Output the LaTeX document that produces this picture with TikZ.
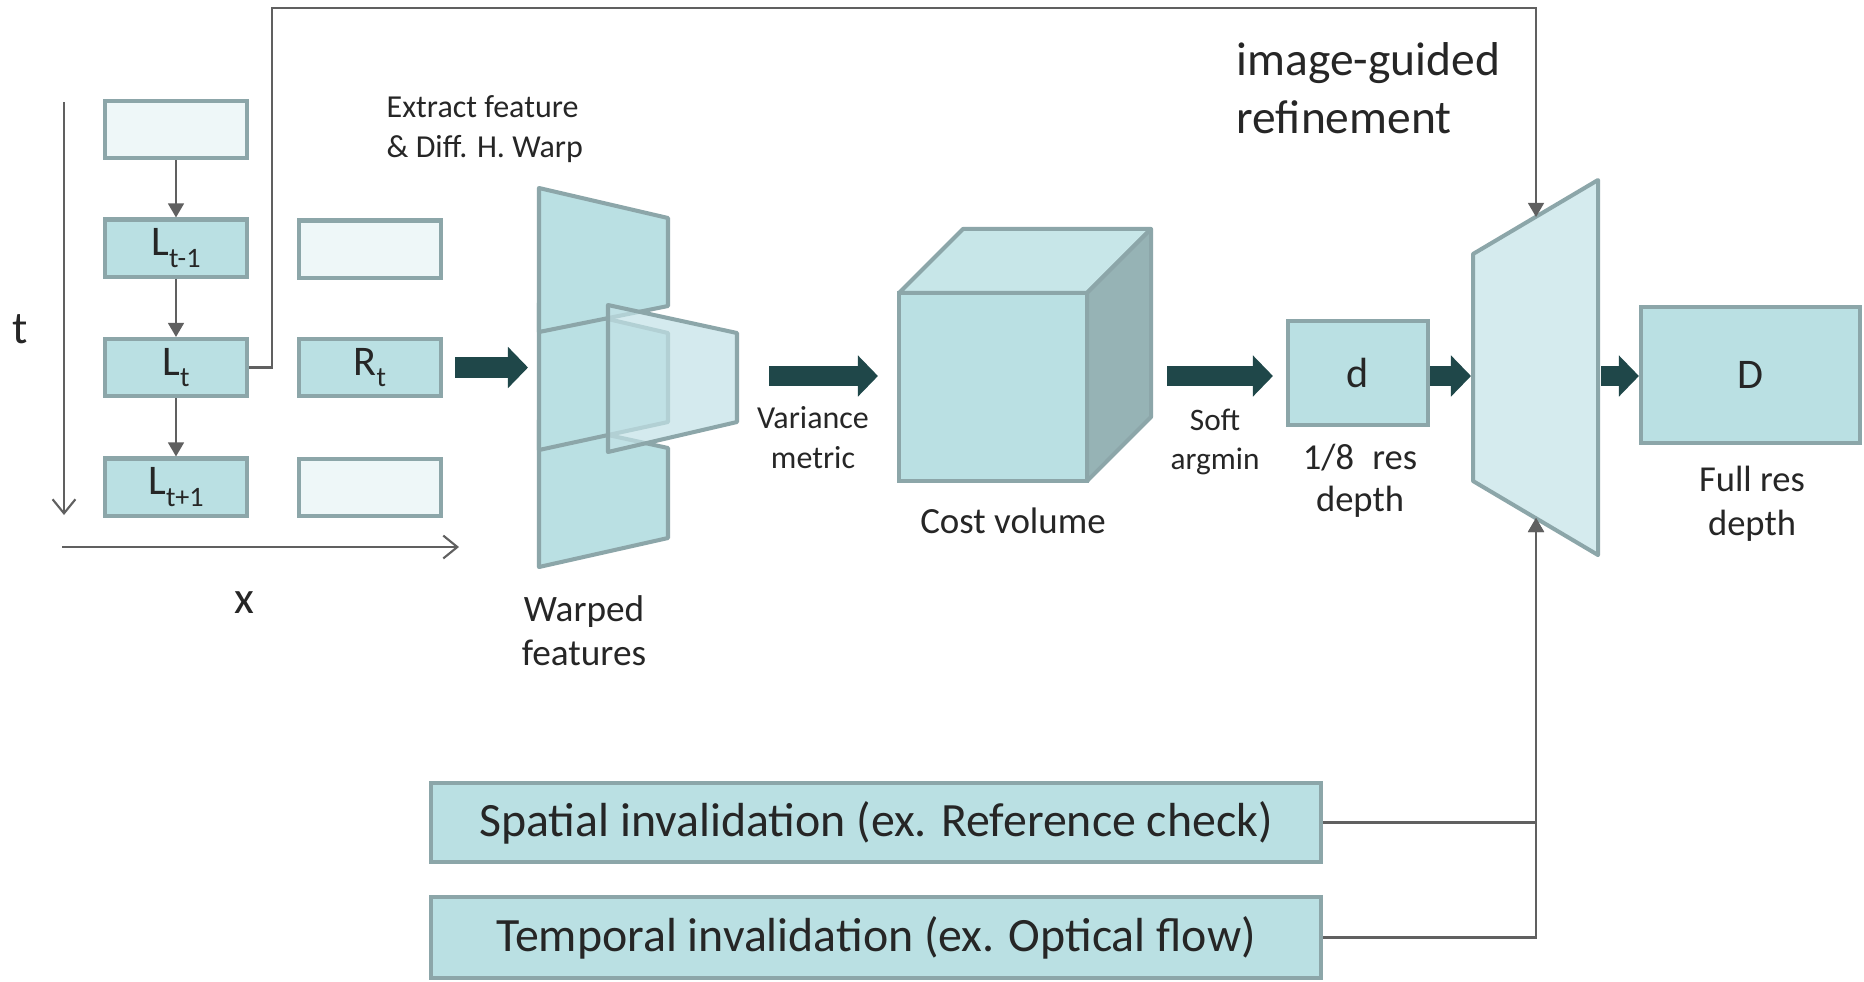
\documentclass[tikz,border=0pt]{standalone}
\usepackage{fontspec}
\setmainfont{Carlito}
\usetikzlibrary{arrows.meta,calc}

\definecolor{boxc}{HTML}{BAE0E3}
\definecolor{palec}{HTML}{EEF7F8}
\definecolor{edgec}{HTML}{8CA6A9}
\definecolor{refc}{HTML}{D5EBEE}
\definecolor{overc}{HTML}{C3E2E7}
\definecolor{cubetop}{HTML}{C7E6E8}
\definecolor{cubeside}{HTML}{96B3B5}
\definecolor{darkc}{HTML}{1F4749}
\definecolor{grayc}{HTML}{606060}
\definecolor{txt}{HTML}{262626}

% lowered subscript for the frame labels
\newcommand{\frameidx}[1]{\raisebox{-0.27em}{\fontsize{8}{9}\selectfont #1}}

\begin{document}
\begin{tikzpicture}[x=0.01cm,y=-0.01cm,
  box/.style={draw=edgec, line width=1.15pt, fill=boxc, inner sep=0pt,
    minimum width=1.42cm, minimum height=0.57cm, text=txt,
    font=\fontsize{12}{14}\selectfont},
  emptybox/.style={box, fill=palec},
  panel/.style={draw=edgec, line width=1.15pt, fill=boxc, line join=round},
  conn/.style={draw=grayc, line width=0.6pt, -{Triangle[width=4.5pt,length=4pt]}},
  axis/.style={draw=grayc, line width=0.6pt, -{Straight Barb[width=6.5pt,length=4pt]}},
  bigarrow/.style={draw=darkc, line width=5.7pt, -{Triangle[width=11.4pt,length=5.7pt]}},
  lbl/.style={text=txt, align=center, inner sep=0pt}]

% canvas
\fill[white] (0,0) rectangle (1864,981);
\useasboundingbox (0,0) rectangle (1864,981);

% ---------- time / space axes ----------
\coordinate (t0) at (64,102);
\coordinate (t1) at (64,515);
\coordinate (x0) at (62,547);
\coordinate (x1) at (459,547);
\draw[axis] (t0) -- (t1);
\draw[axis] (x0) -- (x1);
\node[lbl, font=\fontsize{13}{15}\selectfont] (tlab) at (20,329) {t};
\node[lbl, font=\fontsize{13}{15}\selectfont] (xlab) at (244,603) {x};

% ---------- left / right image columns ----------
\node[emptybox] (L0)   at (176,129.5) {};
\node[box]      (Ltm1) at (176,248)   {L\frameidx{t-1}};
\node[box]      (Lt)   at (176,367.5) {L\frameidx{t}};
\node[box]      (Ltp1) at (176,487)   {L\frameidx{t+1}};
\node[emptybox] (Rtm1) at (370,249)   {};
\node[box]      (Rt)   at (370,367.5) {R\frameidx{t}};
\node[emptybox] (Rtp1) at (370,487.5) {};

\draw[conn] (L0) -- (Ltm1);
\draw[conn] (Ltm1) -- (Lt);
\draw[conn] (Lt) -- (Ltp1);

\node[lbl, anchor=west, align=left, font=\fontsize{9.1}{11.4}\selectfont]
  (extract) at (386,129) {Extract feature\\\& Diff. H. Warp};

% ---------- warped feature planes ----------
\filldraw[panel] (539,420) -- (668,448) -- (668,538) -- (539,567) -- cycle;
\filldraw[panel] (539,303) -- (668,333) -- (668,422) -- (539,450) -- cycle;
\filldraw[panel] (539,188) -- (668,218) -- (668,306) -- (539,332) -- cycle;
\filldraw[panel, fill=overc, fill opacity=0.7] (608,305) -- (737,333) -- (737,422) -- (608,452) -- cycle;
\coordinate (wfin)  at (528,367.5);
\coordinate (wfout) at (737,376);
\node[lbl, font=\fontsize{10.6}{12.5}\selectfont] (wflab) at (584,631) {Warped\\features};

\draw[bigarrow] ($(Rt.east)+(12,0)$) -- (wfin);

% ---------- cost volume ----------
\node[draw=edgec, line width=1.15pt, fill=boxc, outer sep=0pt, inner sep=0pt,
  minimum width=1.88cm, minimum height=1.88cm] (cv) at (993,387) {};
\filldraw[panel, fill=cubetop] (cv.north west) -- ++(64,-64) -- ++(188,0) -- (cv.north east) -- cycle;
\filldraw[panel, fill=cubeside] (cv.north east) -- ++(64,-64) -- ++(0,188) -- (cv.south east) -- cycle;
\coordinate (cvR) at (1153,376);
\node[lbl, font=\fontsize{10.5}{12.5}\selectfont] (cvlab) at (1013,521) {Cost volume};

\draw[bigarrow] ($(wfout)+(32,0)$) -- ($(cv.west |- wfout)+(-21,0)$);
\node[lbl, font=\fontsize{9.1}{11.4}\selectfont] (varlab) at (813,438) {Variance\\metric};

% ---------- low resolution depth ----------
\node[box, minimum width=1.40cm, minimum height=1.04cm] (d) at (1358,373) {d};
\draw[bigarrow] ($(cvR)+(14,0)$) -- ($(d.west |- cvR)+(-13,0)$);
\node[lbl, font=\fontsize{8.9}{11}\selectfont] (softlab) at (1215,442) {Soft\\argmin};
\node[lbl, font=\fontsize{10.4}{12}\selectfont] (dlab) at (1360,481) {1/8\enspace res\\depth};

% ---------- refinement block ----------
\filldraw[panel, fill=refc] (1473,254) -- (1598,180) -- (1598,555) -- (1473,481) -- cycle;
\coordinate (refL)   at (1471,376);
\coordinate (refR)   at (1601,376);
\coordinate (refTop) at (1536,217);
\coordinate (refBot) at (1536,518);
\node[lbl, anchor=west, align=left, font=\fontsize{13.5}{16.5}\selectfont]
  (reflab) at (1236,88) {image-guided\\refinement};

\draw[bigarrow] (d.east |- refL) -- (refL);

% ---------- full resolution depth ----------
\node[box, minimum width=2.19cm, minimum height=1.36cm] (D) at (1750.5,375) {D};
\draw[bigarrow] (refR) -- (D.west |- refR);
\node[lbl, font=\fontsize{10.4}{12.5}\selectfont] (Dlab) at (1752,504) {Full res\\depth};

% ---------- guidance from the reference image ----------
\coordinate (fbA) at (272,8);
\draw[conn] (Lt.east) -| (fbA) -| (refTop);

% ---------- invalidation masks ----------
\node[box, minimum width=8.90cm, minimum height=0.79cm, font=\fontsize{13.6}{16}\selectfont]
  (Spa) at (876,822.5) {Spatial invalidation (ex. Reference check)};
\node[box, minimum width=8.90cm, minimum height=0.81cm, font=\fontsize{13.6}{16}\selectfont]
  (Tmp) at (876,937.5) {Temporal invalidation (ex. Optical flow)};
\draw[conn] (Spa.east) -| (refBot);
\draw[conn] (Tmp.east) -| (refBot);

\end{tikzpicture}
\end{document}
